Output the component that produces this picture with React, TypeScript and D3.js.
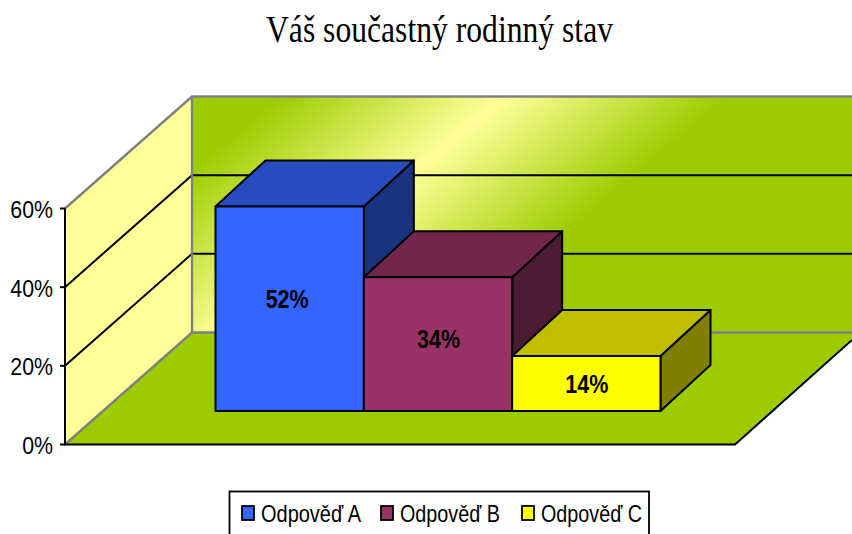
import React from "react";
import * as d3 from "d3";

const titleText = "Váš součastný rodinný stav";
const categories = ["Odpověď A", "Odpověď B", "Odpověď C"];
const values = [52, 34, 14];
const valueLabels = ["52%", "34%", "14%"];
const yTicks = [0, 20, 40, 60];
const frontColors = ["#3366ff", "#993366", "#ffff00"];
const topColors = ["#264cbf", "#73264c", "#bfbf00"];
const sideColors = ["#1a337f", "#4d1a33", "#808000"];
const legendSwatchX = [242, 381, 522];
const legendTextX = [261, 400, 541];
const legendTextW = [100, 100, 101];

const W = 852;
const H = 534;
const y = d3.scaleLinear().domain([0, 60]).range([444.5, 208.5]);
const x = d3.scaleBand<string>().domain(categories).range([215.5, 660.5]).padding(0);
const labelBaseline = d3.scaleLinear().domain([14, 52]).range([393, 308]);
const wallDX = 127;
const wallDY = -112;
const barDX = 50;
const barDY = -46;
const barBase = 411;
const poly = (pts: number[][]) => "M" + pts.map((p) => p.join(",")).join("L") + "Z";
const line = d3.line();

export default function App() {
  const top = y(60);
  const bottom = y(0);
  const bw = x.bandwidth();
  const backBottom = bottom + wallDY;
  const backTop = top + wallDY;
  const left = 65;
  const back = left + wallDX;
  return (
    <svg width={W} height={H} viewBox={`0 0 ${W} ${H}`} style={{ position: "fixed", left: 0, top: 0, background: "#fff" }}>
      <defs>
        <linearGradient id="wall" gradientUnits="userSpaceOnUse" x1={411} y1={-14} x2={597} y2={208}>
          <stop offset="0" stopColor="#9ccc00" />
          <stop offset="0.5" stopColor="#ffff99" />
          <stop offset="1" stopColor="#9ccc00" />
        </linearGradient>
      </defs>

      <text x={266} y={42} textLength={347} lengthAdjust="spacingAndGlyphs" fontFamily="Liberation Serif" fontSize={38} fill="#000">{titleText}</text>

      <rect x={back} y={backTop} width={W - back} height={backBottom - backTop} fill="url(#wall)" />
      <path d={poly([[left, bottom], [back, backBottom], [W, backBottom], [W, 340], [735, bottom]])} fill="#9ccc00" />
      <path d={poly([[left, bottom], [back, backBottom], [back, backTop], [left, top]])} fill="#ffff99" />

      {yTicks.filter((t) => t > 0 && t < 60).map((t) => (
        <g key={t} fill="none" stroke="#000" strokeWidth={2}>
          <path d={line([[left, y(t)], [back, y(t) + wallDY], [W, y(t) + wallDY]]) as string} />
        </g>
      ))}
      <path d={line([[left, top], [back, backTop], [W, backTop]]) as string} fill="none" stroke="#808080" strokeWidth={2.4} />
      <path d={line([[left, bottom], [back, backBottom], [W, backBottom]]) as string} fill="none" stroke="#808080" strokeWidth={2.4} />
      <path d={line([[back, backTop], [back, backBottom]]) as string} fill="none" stroke="#808080" strokeWidth={2.4} />

      <path d={line([[left, top], [left, bottom], [735, bottom], [W, 340]]) as string} fill="none" stroke="#000" strokeWidth={2} />
      {yTicks.map((t) => (
        <g key={t}>
          <line x1={60} x2={left} y1={y(t)} y2={y(t)} stroke="#000" strokeWidth={2} />
          <text transform={`translate(53,${y(t) + 9.5}) scale(0.87,1)`} textAnchor="end" fontFamily="Liberation Sans" fontSize={24.5} fill="#000">{t}%</text>
        </g>
      ))}

      {categories.map((c, i) => {
        const h = y(0) - y(values[i]);
        const x0 = x(c) as number;
        const x1 = x0 + bw;
        const t = barBase - h;
        return (
          <g key={c} stroke="#000" strokeWidth={2} strokeLinejoin="round">
            <path d={poly([[x1, t], [x1 + barDX, t + barDY], [x1 + barDX, barBase + barDY], [x1, barBase]])} fill={sideColors[i]} />
            <path d={poly([[x0, t], [x0 + barDX, t + barDY], [x1 + barDX, t + barDY], [x1, t]])} fill={topColors[i]} />
            <rect x={x0} y={t} width={bw} height={h} fill={frontColors[i]} />
          </g>
        );
      })}
      {categories.map((c, i) => {
        const cx = (x(c) as number) + bw / 2 - 2.5;
        return (
          <text key={c} x={cx - 21.5 + (i > 0 ? 3 : 0)} y={labelBaseline(values[i])} textLength={43} lengthAdjust="spacingAndGlyphs" fontFamily="Liberation Sans" fontWeight="bold" fontSize={25.5} fill="#000">{valueLabels[i]}</text>
        );
      })}

      <rect x={229.5} y={491.5} width={419.5} height={60} fill="#fff" stroke="#000" strokeWidth={1.8} />
      {categories.map((c, i) => (
        <g key={c}>
          <rect x={legendSwatchX[i]} y={506} width={12} height={14} fill={frontColors[i]} stroke="#000" strokeWidth={1.8} />
          <text x={legendTextX[i]} y={522} textLength={legendTextW[i]} lengthAdjust="spacingAndGlyphs" fontFamily="Liberation Sans" fontSize={24} fill="#000">{c}</text>
        </g>
      ))}
    </svg>
  );
}
